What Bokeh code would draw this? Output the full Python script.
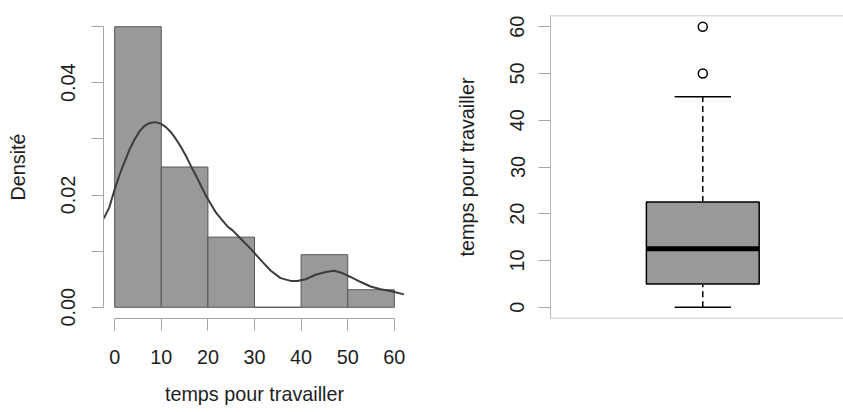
from bokeh.plotting import figure
from bokeh.layouts import row
from bokeh.models import Range1d, FixedTicker, Span, ColumnDataSource
from bokeh.embed import file_html
from bokeh.resources import INLINE

# ---------------- data ----------------
bin_left = [0, 10, 20, 30, 40, 50]
bin_right = [10, 20, 30, 40, 50, 60]
hist_density = [0.05, 0.025, 0.0125, 0.0, 0.009375, 0.003125]

kde_x = [-2.36, -1.15, -0.08, 1.0, 2.06, 3.13, 4.2, 5.27, 6.35, 7.42, 8.7, 9.92,
         11.0, 12.06, 13.13, 14.2, 15.27, 16.35, 17.42, 18.49, 19.56, 20.63, 21.7,
         22.78, 24.2, 25.3, 27.06, 29.2, 31.35, 33.5, 35.6, 37.78, 39.2, 41.0, 43.1,
         45.3, 47.05, 48.85, 50.6, 52.8, 54.9, 57.06, 59.2, 62.05]
kde_y = [0.0158, 0.0178, 0.0208, 0.0235, 0.0258, 0.0280, 0.0298, 0.0313, 0.0323,
         0.0328, 0.0330, 0.0327, 0.0321, 0.0312, 0.0300, 0.0286, 0.0270, 0.0252,
         0.0235, 0.0217, 0.0199, 0.0184, 0.0169, 0.0158, 0.0144, 0.0137, 0.0122,
         0.0104, 0.0084, 0.0065, 0.0052, 0.0047, 0.0047, 0.0050, 0.0058, 0.0063,
         0.0065, 0.0061, 0.0054, 0.0045, 0.0037, 0.0032, 0.0029, 0.0023]

x_ticks = [0, 10, 20, 30, 40, 50, 60]
dens_ticks = [0.0, 0.01, 0.02, 0.03, 0.04, 0.05]
dens_labels = {0.0: "0.00", 0.01: "", 0.02: "0.02", 0.03: "", 0.04: "0.04", 0.05: ""}

box_pos = [1]
box_min = [0]
box_q1 = [5]
box_median = [12.5]
box_q3 = [22.5]
box_max = [45]
outlier_pos = [1, 1]
outliers = [50, 60]
box_ticks = [0, 10, 20, 30, 40, 50, 60]

x_title = "temps pour travailler"
y1_title = "Densité"
y2_title = "temps pour travailler"

# ---------------- style ----------------
FONT = "Liberation Sans"
FS = "19.8px"
TXT = "#1e1e1e"
AXC = "#a6a6a6"
FRAME = "#b8b8b8"
BAR = "#999999"
TOP, BOTTOM = 15, 94


def pad(lo, hi, f=0.04):
    d = (hi - lo) * f
    return lo - d, hi + d


def style_axis(ax, ticks, overrides=None, bounds=None):
    ax.ticker = FixedTicker(ticks=ticks)
    if overrides:
        ax.major_label_overrides = overrides
    if bounds is not None:
        ax.bounds = bounds
    ax.axis_line_color = AXC
    ax.major_tick_line_color = AXC
    ax.minor_tick_line_color = None
    ax.major_tick_out = 12
    ax.major_tick_in = 0
    ax.major_label_text_font = FONT
    ax.major_label_text_font_size = FS
    ax.major_label_text_color = TXT
    ax.axis_label_text_font = FONT
    ax.axis_label_text_font_size = FS
    ax.axis_label_text_color = TXT
    ax.axis_label_text_font_style = "normal"


# ---------------- left: histogram + density ----------------
xr = pad(min(bin_left), max(bin_right))
yr = pad(0, max(hist_density))
p1 = figure(width=420, height=412, output_backend="svg", toolbar_location=None,
            x_range=Range1d(*xr), y_range=Range1d(*yr),
            min_border_left=103, min_border_right=15,
            min_border_top=TOP, min_border_bottom=BOTTOM)
p1.outline_line_color = None
p1.grid.visible = False

src = ColumnDataSource(dict(left=bin_left, right=bin_right, top=hist_density,
                            bottom=[0] * len(hist_density)))
p1.quad(left="left", right="right", top="top", bottom="bottom", source=src,
        fill_color=BAR, line_color="#555555", line_width=1)
p1.line(kde_x, kde_y, line_color="#3c3c3c", line_width=2)

xa = p1.xaxis[0]
ya = p1.yaxis[0]
style_axis(xa, x_ticks, bounds=(min(x_ticks), max(x_ticks)))
style_axis(ya, dens_ticks, overrides=dens_labels,
           bounds=(min(dens_ticks), max(dens_ticks)))
xa.axis_label = x_title
ya.axis_label = y1_title
ya.major_label_orientation = "parallel"
xa.major_label_standoff = 19
xa.axis_label_standoff = 16
ya.major_label_standoff = 16
ya.axis_label_standoff = 30

# ---------------- right: boxplot ----------------
all_vals = box_min + box_max + outliers
yr2 = pad(min(all_vals), max(all_vals))
p2 = figure(width=423, height=412, output_backend="svg", toolbar_location=None,
            x_range=Range1d(0.46, 1.499), y_range=Range1d(*yr2),
            min_border_left=130, min_border_right=0,
            min_border_top=TOP, min_border_bottom=BOTTOM)
p2.outline_line_color = None
p2.grid.visible = False
p2.xaxis.visible = False

BW = 0.4
p2.segment(x0=box_pos, x1=box_pos, y0=box_q3, y1=box_max, line_color="black",
           line_width=1.5, line_dash="6 4")
p2.segment(x0=box_pos, x1=box_pos, y0=box_min, y1=box_q1, line_color="black",
           line_width=1.5, line_dash="6 4")
p2.segment(x0=[b - BW / 4 for b in box_pos], x1=[b + BW / 4 for b in box_pos],
           y0=box_max, y1=box_max, line_color="black", line_width=1.5)
p2.segment(x0=[b - BW / 4 for b in box_pos], x1=[b + BW / 4 for b in box_pos],
           y0=box_min, y1=box_min, line_color="black", line_width=1.5)
p2.vbar(x=box_pos, width=BW, bottom=box_q1, top=box_q3, fill_color=BAR,
        line_color="black", line_width=1.5)
p2.segment(x0=[b - BW / 2 for b in box_pos], x1=[b + BW / 2 for b in box_pos],
           y0=box_median, y1=box_median, line_color="black", line_width=5)
p2.scatter(outlier_pos, outliers, marker="circle", size=9, fill_color=None,
           line_color="black", line_width=1.5)

p2.add_layout(Span(location=yr2[1], dimension="width", line_color=FRAME, line_width=1.5))
p2.add_layout(Span(location=yr2[0], dimension="width", line_color=FRAME, line_width=1.5))

ya2 = p2.yaxis[0]
style_axis(ya2, box_ticks)
ya2.axis_line_color = FRAME
ya2.axis_label = y2_title
ya2.major_label_orientation = "parallel"
ya2.major_label_standoff = 14
ya2.axis_label_standoff = 30

layout = row(p1, p2)
open("out.html", "w").write(file_html(layout, INLINE))
